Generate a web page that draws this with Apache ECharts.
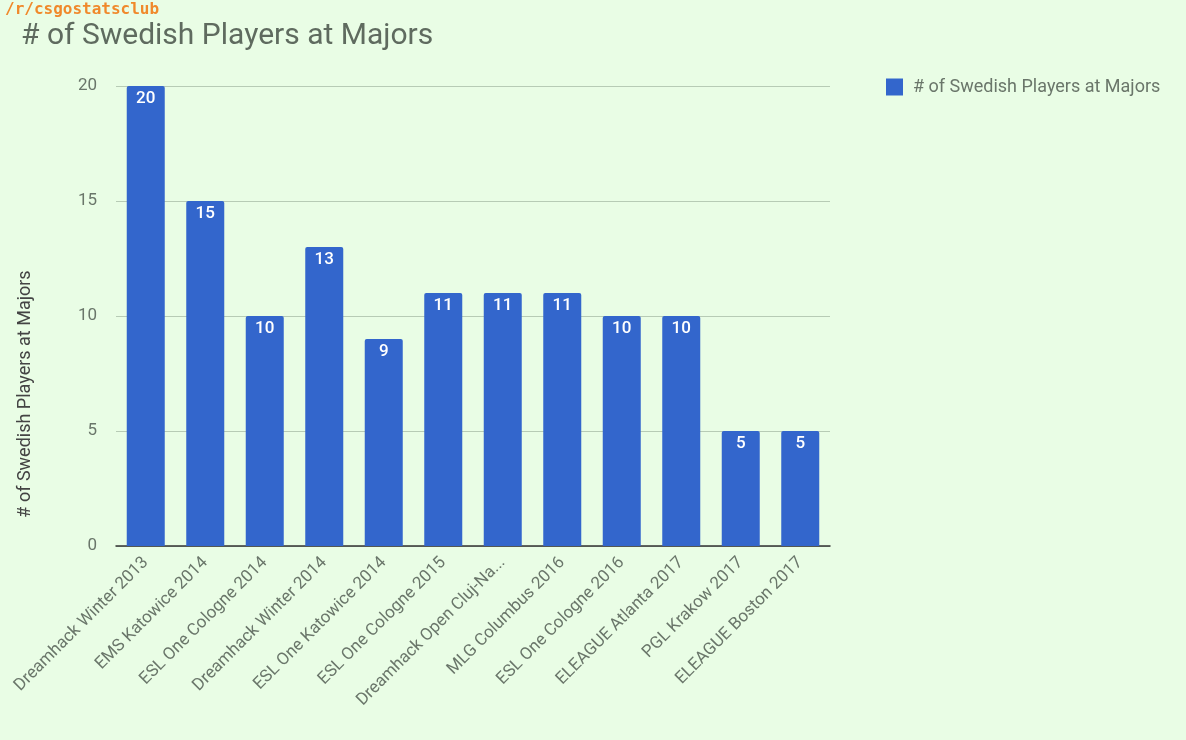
<!DOCTYPE html>
<html>
<head>
<meta charset="utf-8">
<script src="https://cdn.jsdelivr.net/npm/echarts@6/dist/echarts.min.js"></script>
<style>
  html, body { margin: 0; padding: 0; background: #e9fde5; }
  #chart { width: 1186px; height: 740px; }
</style>
</head>
<body>
<div id="chart"></div>
<script>
// data
var categories = [
  'Dreamhack Winter 2013', 'EMS Katowice 2014', 'ESL One Cologne 2014',
  'Dreamhack Winter 2014', 'ESL One Katowice 2014', 'ESL One Cologne 2015',
  'Dreamhack Open Cluj-Napoca 2015', 'MLG Columbus 2016', 'ESL One Cologne 2016',
  'ELEAGUE Atlanta 2017', 'PGL Krakow 2017', 'ELEAGUE Boston 2017'
];
var swedishPlayers = [20, 15, 10, 13, 9, 11, 11, 11, 10, 10, 5, 5];
var yTicks = [0, 5, 10, 15, 20];
var seriesName = '# of Swedish Players at Majors';

var myChart = echarts.init(document.getElementById('chart'));
var grayText = '#6a766a';

var option = {
  backgroundColor: '#e9fde5',
  textStyle: { fontFamily: 'Roboto' },
  title: [
    {
      text: '/r/csgostatsclub',
      left: 5, top: 2, padding: 0,
      textStyle: { color: '#f0892b', fontFamily: 'DejaVu Sans Mono', fontWeight: 'bold', fontSize: 16 }
    },
    {
      text: '# of Swedish Players at Majors',
      left: 21, top: 21, padding: 0,
      textStyle: { color: '#5f6b5f', fontFamily: 'Roboto', fontWeight: 'normal', fontSize: 30 }
    }
  ],
  legend: {
    left: 881, top: 73,
    itemWidth: 17, itemHeight: 17, itemGap: 10,
    icon: 'rect',
    data: [seriesName],
    textStyle: { color: grayText, fontSize: 18, padding: [0, 0, 0, 5] }
  },
  grid: {
    left: 116, right: 356, top: 86, bottom: 194
  },
  xAxis: {
    type: 'category',
    data: categories,
    axisTick: { show: false },
    axisLine: { lineStyle: { color: '#333', width: 1.5 } },
    axisLabel: {
      rotate: 45,
      interval: 0,
      margin: 14,
      color: grayText,
      fontSize: 17,
      formatter: function (s) {
        return s.length > 24 ? s.slice(0, 22) + '...' : s;
      }
    }
  },
  yAxis: {
    type: 'value',
    min: yTicks[0],
    max: yTicks[yTicks.length - 1],
    interval: 5,
    name: seriesName,
    nameLocation: 'middle',
    nameGap: 82,
    nameTextStyle: { color: '#444', fontSize: 18, padding: [0, 156, 0, 0] },
    axisLine: { show: false },
    axisTick: { show: false },
    axisLabel: { color: grayText, fontSize: 17, margin: 19 },
    splitLine: { lineStyle: { color: '#b7cbb5' } }
  },
  series: [
    {
      name: seriesName,
      type: 'bar',
      data: swedishPlayers,
      barWidth: 38,
      itemStyle: { color: '#3366cc', borderRadius: [2, 2, 0, 0] },
      label: {
        show: true,
        position: 'insideTop',
        distance: 4,
        color: '#fff',
        fontSize: 17,
        fontWeight: 500
      }
    }
  ]
};
myChart.setOption(option);
</script>
</body>
</html>
